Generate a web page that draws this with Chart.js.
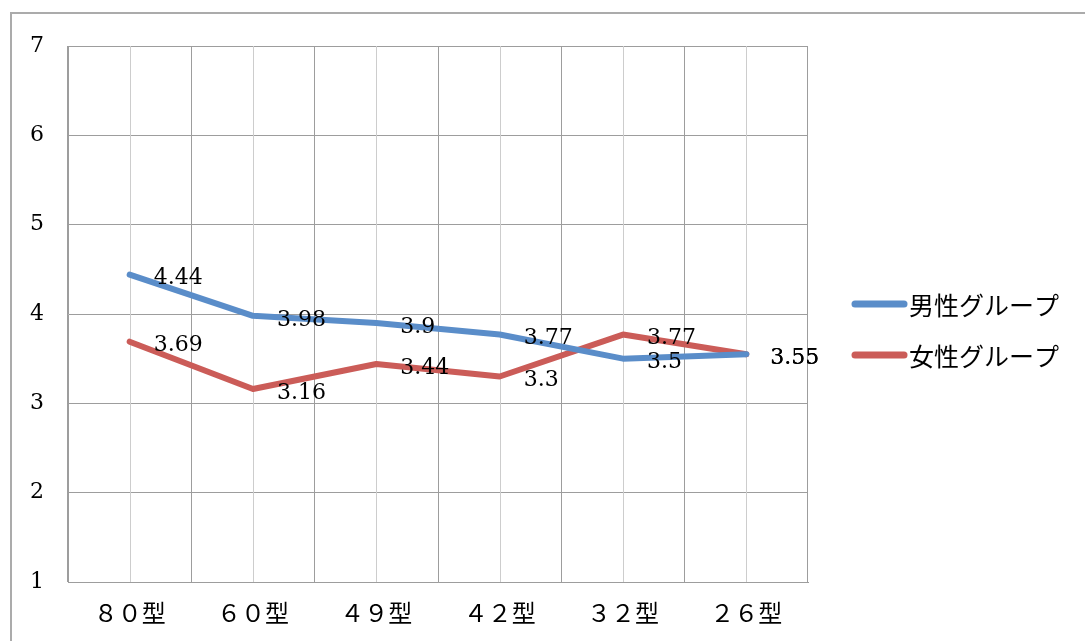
<!DOCTYPE html>
<html lang="ja">
<head>
<meta charset="utf-8">
<script src="https://cdn.jsdelivr.net/npm/chart.js@4.4.1/dist/chart.umd.min.js"></script>
<style>
  html, body { margin: 0; padding: 0; background: #fff; }
  #wrap { position: relative; width: 1085px; height: 641px; overflow: hidden; }
  #frame { position: absolute; left: 10px; top: 12px; width: 1100px; height: 700px; border: 2px solid #ababab; }
  #chart { position: absolute; left: 0; top: 0; }
</style>
</head>
<body>
<div id="wrap">
  <div id="frame"></div>
  <canvas id="chart" width="1085" height="641"></canvas>
</div>
<script>
// ── data ──────────────────────────────────────────────
const categories = ['８０型', '６０型', '４９型', '４２型', '３２型', '２６型'];
const maleScores = [4.44, 3.98, 3.9, 3.77, 3.5, 3.55];
const femaleScores = [3.69, 3.16, 3.44, 3.3, 3.77, 3.55];
const yTicks = [1, 2, 3, 4, 5, 6, 7];

const NUM_FONT = '"DejaVu Serif", "Liberation Serif", serif';
const JP_FONT = '"Noto Sans CJK JP", sans-serif';
const GRID = '#9d9d9d';

// lighter vertical lines through each category centre
const centerLines = {
  id: 'centerLines',
  beforeDatasetsDraw(chart) {
    const { ctx, chartArea, scales: { x } } = chart;
    ctx.save();
    ctx.strokeStyle = '#cdcdcd';
    ctx.lineWidth = 1;
    categories.forEach((c, i) => {
      const px = Math.round(x.getPixelForValue(i)) + 0.5;
      ctx.beginPath();
      ctx.moveTo(px, chartArea.top);
      ctx.lineTo(px, chartArea.bottom);
      ctx.stroke();
    });
    ctx.restore();
  }
};

// value text to the right of every point
const valueLabels = {
  id: 'valueLabels',
  afterDatasetsDraw(chart) {
    const { ctx } = chart;
    ctx.save();
    ctx.font = '22px ' + NUM_FONT;
    ctx.fillStyle = '#000';
    ctx.textAlign = 'left';
    ctx.textBaseline = 'middle';
    chart.data.datasets.forEach((ds, di) => {
      chart.getDatasetMeta(di).data.forEach((pt, i) => {
        ctx.fillText(String(ds.data[i]), pt.x + 24, pt.y + 4);
      });
    });
    ctx.restore();
  }
};

// legend to the right of the plot: short thick line + series name
const sideLegend = {
  id: 'sideLegend',
  afterDraw(chart) {
    const { ctx, chartArea } = chart;
    const x0 = chartArea.right + 44;
    const lineLen = 55;
    const firstY = 304;
    const rowGap = 51;
    ctx.save();
    ctx.font = '25px ' + JP_FONT;
    ctx.fillStyle = '#000';
    ctx.textAlign = 'left';
    ctx.textBaseline = 'middle';
    ctx.lineCap = 'round';
    ctx.lineWidth = 7;
    chart.data.datasets.forEach((ds, i) => {
      const y = firstY + i * rowGap;
      ctx.strokeStyle = ds.borderColor;
      ctx.beginPath();
      ctx.moveTo(x0 + 3, y);
      ctx.lineTo(x0 + lineLen - 3, y);
      ctx.stroke();
      ctx.fillText(ds.label, x0 + lineLen + 2, y + 1);
    });
    ctx.restore();
  }
};

const lineStyle = {
  borderWidth: 6,
  pointRadius: 0,
  pointHoverRadius: 0,
  tension: 0,
  borderCapStyle: 'round',
  borderJoinStyle: 'round',
  fill: false
};

new Chart(document.getElementById('chart'), {
  type: 'line',
  data: {
    labels: categories,
    datasets: [
      { label: '男性グループ', data: maleScores, borderColor: '#5a8dc9', backgroundColor: '#5a8dc9', ...lineStyle },
      { label: '女性グループ', data: femaleScores, borderColor: '#cb5c58', backgroundColor: '#cb5c58', ...lineStyle }
    ]
  },
  options: {
    responsive: false,
    animation: false,
    devicePixelRatio: 1,
    layout: { padding: { top: 46, left: 0, right: 277, bottom: 0 } },
    plugins: {
      tooltip: { enabled: false },
      legend: { display: false }
    },
    scales: {
      x: {
        offset: true,
        grid: { offset: true, color: GRID, lineWidth: 1, drawTicks: false },
        border: { color: GRID },
        ticks: { font: { family: JP_FONT, size: 24 }, color: '#000', padding: 16, maxRotation: 0 },
        afterFit: s => { s.height = 59; }
      },
      y: {
        min: yTicks[0],
        max: yTicks[yTicks.length - 1],
        grid: { color: GRID, lineWidth: 1, drawTicks: false },
        border: { color: GRID },
        ticks: { stepSize: 1, font: { family: NUM_FONT, size: 22 }, color: '#000', padding: 24 },
        afterFit: s => { s.width = 68; }
      }
    }
  },
  plugins: [centerLines, valueLabels, sideLegend]
});
</script>
</body>
</html>
